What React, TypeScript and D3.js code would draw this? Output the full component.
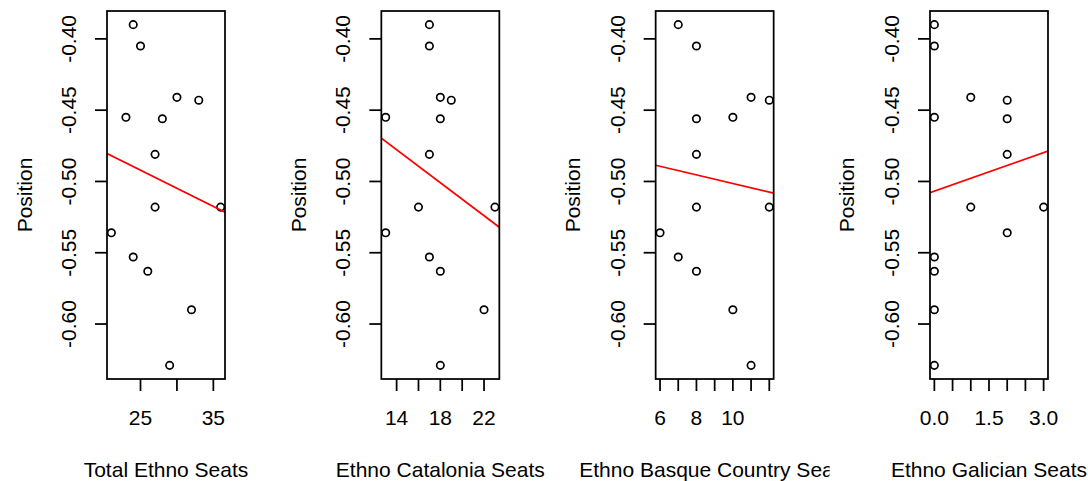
import React from 'react';
import * as d3 from 'd3';

// y values shared by all four panels
const position = [-0.39, -0.405, -0.441, -0.443, -0.455, -0.456, -0.481, -0.518, -0.518, -0.536, -0.553, -0.563, -0.59, -0.629];

const totalEthno = [24, 25, 30, 33, 23, 28, 27, 36, 27, 21, 24, 26, 32, 29];
const catalonia = [17, 17, 18, 19, 13, 18, 17, 23, 16, 13, 17, 18, 22, 18];
const basque = [7, 8, 11, 12, 10, 8, 8, 12, 8, 6, 7, 8, 10, 11];
const galician = [0, 0, 1, 2, 0, 2, 2, 3, 1, 2, 0, 0, 0, 0];

const xTitles = ['Total Ethno Seats', 'Ethno Catalonia Seats', 'Ethno Basque Country Seats', 'Ethno Galician Seats'];
const xTicks = [
  [25, 30, 35],
  [14, 16, 18, 20, 22],
  [6, 7, 8, 9, 10, 11, 12],
  [0, 0.5, 1, 1.5, 2, 2.5, 3],
];
const xTickLabels = [
  ['25', '', '35'],
  ['14', '', '18', '', '22'],
  ['6', '', '8', '', '10', '', ''],
  ['0.0', '', '', '1.5', '', '', '3.0'],
];
const yTicks = [-0.6, -0.55, -0.5, -0.45, -0.4];
const yTickLabels = ['-0.60', '-0.55', '-0.50', '-0.45', '-0.40'];

const W = 1088;
const H = 481;
const boxTop = 11;
const boxBottom = 379;
const boxW = 118;
const panelStep = 274.33;
const firstLeft = 107;
const font = '"Liberation Sans", Arial, sans-serif';
const fs = 21;
const lw = 1.75;

// R style axis range: data range padded by 4%
const padded = (v: number[]) => {
  const [lo, hi] = d3.extent(v) as [number, number];
  const r = hi - lo;
  return [lo - 0.04 * r, hi + 0.04 * r];
};

// least squares line, like abline(lm(y ~ x))
const fit = (x: number[], y: number[]) => {
  const mx = d3.mean(x) as number;
  const my = d3.mean(y) as number;
  const sxy = d3.sum(x, (d, i) => (d - mx) * (y[i] - my));
  const sxx = d3.sum(x, d => (d - mx) * (d - mx));
  const b = sxy / sxx;
  return { a: my - b * mx, b };
};

const Panel = ({ i, xs }: { i: number; xs: number[] }) => {
  const left = firstLeft + i * panelStep;
  const right = left + boxW;
  const x = d3.scaleLinear().domain(padded(xs)).range([left, right]);
  const y = d3.scaleLinear().domain(padded(position)).range([boxBottom, boxTop]);
  const { a, b } = fit(xs, position);
  const [x0, x1] = x.domain();
  const cy = (boxTop + boxBottom) / 2;
  const clipId = `clip-${i}`;

  return (
    <g>
      <defs>
        <clipPath id={`box-${i}`}>
          <rect x={left} y={boxTop} width={boxW} height={boxBottom - boxTop} />
        </clipPath>
        <clipPath id={clipId}>
          <rect x={left - 103} y={0} width={boxW + 159} height={H} />
        </clipPath>
      </defs>

      {position.map((v, k) => (
        <circle key={k} cx={x(xs[k])} cy={y(v)} r={3.7} fill="none" stroke="#000" strokeWidth={1.7} />
      ))}

      <line
        x1={x(x0)} y1={y(a + b * x0)} x2={x(x1)} y2={y(a + b * x1)}
        stroke="#ff0000" strokeWidth={lw} clipPath={`url(#box-${i})`}
      />

      <rect x={left} y={boxTop} width={boxW} height={boxBottom - boxTop} fill="none" stroke="#000" strokeWidth={lw} />

      {/* y axis */}
      {yTicks.map((t, k) => (
        <g key={k}>
          <line x1={left} x2={left - 12} y1={y(t)} y2={y(t)} stroke="#000" strokeWidth={lw} />
          <text
            transform={`translate(${left - 31},${y(t)}) rotate(-90)`}
            textAnchor="middle" fontSize={fs} fontFamily={font}
          >
            {yTickLabels[k]}
          </text>
        </g>
      ))}
      <text
        transform={`translate(${left - 75.5},${cy}) rotate(-90)`}
        textAnchor="middle" fontSize={fs} fontFamily={font}
      >
        Position
      </text>

      {/* x axis */}
      {xTicks[i].map((t, k) => (
        <g key={k}>
          <line x1={x(t)} x2={x(t)} y1={boxBottom} y2={boxBottom + 12} stroke="#000" strokeWidth={lw} />
          <text x={x(t)} y={boxBottom + 46} textAnchor="middle" fontSize={fs} fontFamily={font}>
            {xTickLabels[i][k]}
          </text>
        </g>
      ))}
      <text
        x={(left + right) / 2} y={boxBottom + 98} textAnchor="middle"
        fontSize={fs} fontFamily={font} clipPath={`url(#${clipId})`}
      >
        {xTitles[i]}
      </text>
    </g>
  );
};

export default function App() {
  const series = [totalEthno, catalonia, basque, galician];
  return (
    <svg
      width={W} height={H}
      style={{ position: 'absolute', left: 0, top: 0, background: '#fff' }}
    >
      <rect width={W} height={H} fill="#fff" />
      {series.map((xs, i) => (
        <Panel key={i} i={i} xs={xs} />
      ))}
    </svg>
  );
}
